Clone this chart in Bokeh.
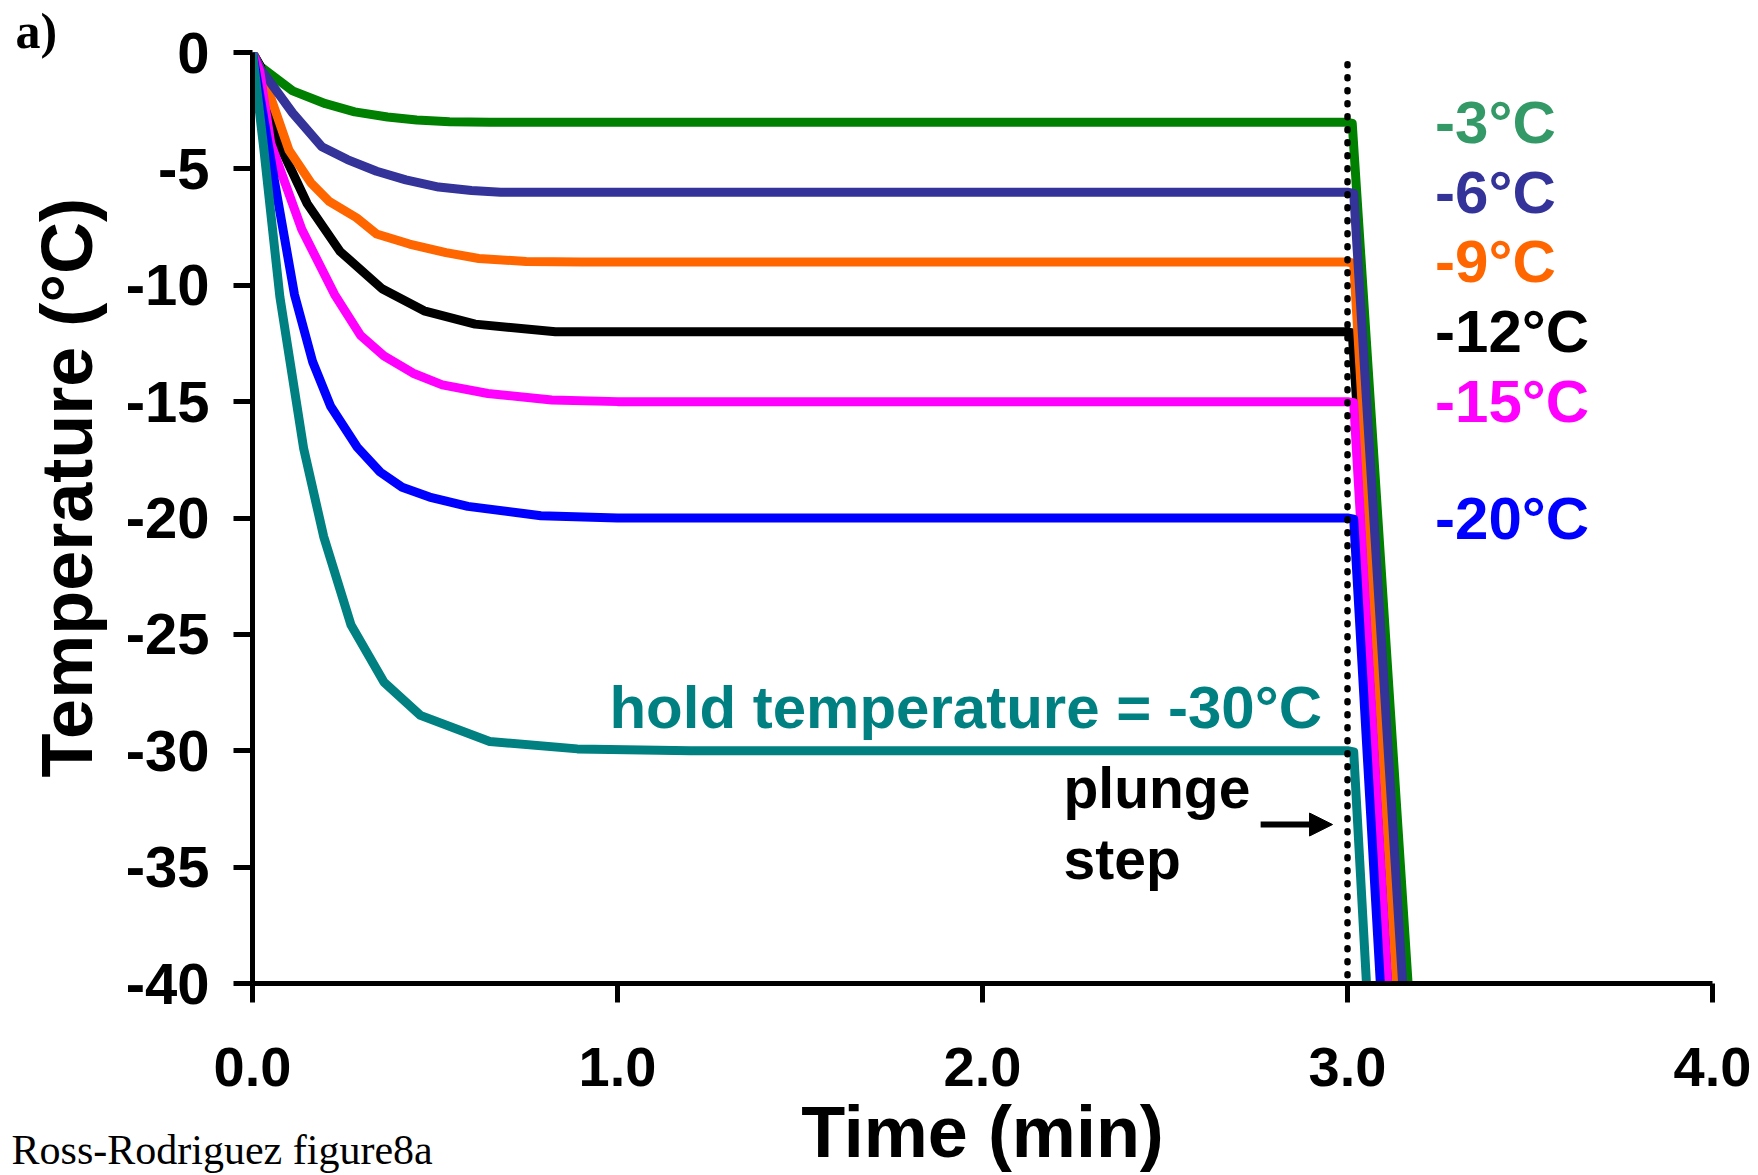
import math
from bokeh.plotting import figure
from bokeh.models import Range1d, FixedTicker, PrintfTickFormatter, Label, Arrow, NormalHead
from bokeh.core.properties import value
from bokeh.embed import file_html
from bokeh.resources import INLINE

# ---------------- data ----------------
t_m3 = [0, 0.022, 0.11, 0.2, 0.28, 0.37, 0.45, 0.54, 0.65, 3.0, 3.013, 3.166]
T_m3 = [0, -0.6, -1.65, -2.2, -2.55, -2.77, -2.9, -2.98, -3.0, -3.0, -3.05, -40]

t_m6 = [0, 0.022, 0.11, 0.19, 0.26, 0.34, 0.42, 0.51, 0.6, 0.68, 3.0, 3.017, 3.151]
T_m6 = [0, -0.7, -2.6, -4.05, -4.6, -5.1, -5.47, -5.78, -5.93, -6.0, -6.0, -6.05, -40]

t_m9 = [0, 0.025, 0.1, 0.16, 0.21, 0.285, 0.34, 0.43, 0.53, 0.62, 0.75, 0.9, 3.0, 3.017, 3.134]
T_m9 = [0, -0.8, -4.2, -5.6, -6.4, -7.1, -7.8, -8.23, -8.6, -8.85, -8.98, -9.0, -9.0, -9.05, -40]

t_m12 = [0, 0.022, 0.06, 0.15, 0.24, 0.355, 0.47, 0.61, 0.83, 3.0, 3.013, 3.126]
T_m12 = [0, -0.6, -3.5, -6.5, -8.55, -10.15, -11.1, -11.67, -12.0, -12.0, -12.05, -40]

t_m15 = [0, 0.02, 0.05, 0.135, 0.225, 0.296, 0.36, 0.44, 0.52, 0.645, 0.82, 1.0, 3.0, 3.017, 3.11]
T_m15 = [0, -0.8, -3.9, -7.6, -10.4, -12.15, -13.03, -13.78, -14.28, -14.65, -14.93, -15.0, -15.0, -15.05, -40]

t_m20 = [0, 0.06, 0.115, 0.165, 0.214, 0.287, 0.35, 0.41, 0.485, 0.59, 0.79, 1.0, 3.0, 3.017, 3.09]
T_m20 = [0, -5.5, -10.4, -13.3, -15.2, -16.96, -18.03, -18.68, -19.1, -19.5, -19.9, -20.0, -20.0, -20.05, -40]

t_m30 = [0, 0.03, 0.075, 0.14, 0.195, 0.27, 0.36, 0.46, 0.65, 0.89, 1.2, 3.0, 3.017, 3.052]
T_m30 = [0, -4.0, -10.5, -17.0, -20.8, -24.6, -27.05, -28.48, -29.6, -29.92, -30.0, -30.0, -30.05, -40]

hold_temps = [-3, -6, -9, -12, -15, -20]
hold_labels = ["-3°C", "-6°C", "-9°C", "-12°C", "-15°C", "-20°C"]

x_ticks = [0, 1, 2, 3, 4]
y_ticks = [0, -5, -10, -15, -20, -25, -30, -35, -40]

plunge_time = 3.0
plunge_dots_top = -0.5

# ---------------- styling ----------------
FONT = "Liberation Sans"
SERIF = "Liberation Serif"
C_GREEN, C_PURPLE, C_ORANGE, C_BLACK = "#008000", "#333399", "#FF6600", "#000000"
C_MAGENTA, C_BLUE, C_TEAL = "#FF00FF", "#0000FF", "#008080"
label_colors = ["#339966", C_PURPLE, C_ORANGE, C_BLACK, C_MAGENTA, C_BLUE]

p = figure(width=1758, height=1175, x_range=Range1d(0, 4), y_range=Range1d(-40, 0),
           output_backend="svg", toolbar_location=None, title=None,
           min_border_left=252, min_border_right=46, min_border_top=52, min_border_bottom=192)
p.xgrid.visible = False
p.ygrid.visible = False
p.outline_line_color = None
p.background_fill_color = "white"
p.border_fill_color = "white"

for ax in (p.xaxis[0], p.yaxis[0]):
    ax.axis_line_width = 5
    ax.axis_line_color = "black"
    ax.major_tick_line_width = 5
    ax.major_tick_line_color = "black"
    ax.major_tick_out = 19
    ax.major_tick_in = 0
    ax.minor_tick_out = 0
    ax.minor_tick_in = 0
    ax.major_label_text_font = FONT
    ax.major_label_text_font_style = "bold"
    ax.major_label_text_color = "black"
    ax.axis_label_text_font = FONT
    ax.axis_label_text_font_style = "bold"
    ax.axis_label_text_font_size = "72px"
    ax.axis_label_text_color = "black"

xa = p.xaxis[0]
xa.ticker = FixedTicker(ticks=x_ticks)
xa.formatter = PrintfTickFormatter(format="%.1f")
xa.major_label_text_font_size = "56px"
xa.major_label_standoff = 45
xa.axis_label = "Time (min)"
xa.axis_label_standoff = 3

ya = p.yaxis[0]
ya.ticker = FixedTicker(ticks=y_ticks)
ya.formatter = PrintfTickFormatter(format="%d")
ya.major_label_text_font_size = "58px"
ya.major_label_standoff = 24

series = [
    (t_m3, T_m3, C_GREEN),
    (t_m12, T_m12, C_BLACK),
    (t_m9, T_m9, C_ORANGE),
    (t_m6, T_m6, C_PURPLE),
    (t_m15, T_m15, C_MAGENTA),
    (t_m20, T_m20, C_BLUE),
    (t_m30, T_m30, C_TEAL),
]
for t, T, c in series:
    p.line(t, T, line_color=c, line_width=9, line_join="round")

# dotted plunge marker
p.line([plunge_time, plunge_time], [plunge_dots_top, -40], line_color="black",
       line_width=6.5, line_dash="1 12", line_cap="round")

# right-hand labels
for v, txt, c in zip(hold_temps, hold_labels, label_colors):
    p.add_layout(Label(x=3.24, y=v, text=txt, text_font=FONT, text_font_style="bold",
                       text_font_size="60px", text_color=c, text_baseline="middle",
                       text_align="left"))

p.add_layout(Label(x=0.978, y=-28.14, text="hold temperature =  -30°C", text_font=FONT,
                   text_font_style="bold", text_font_size="60px", text_color=C_TEAL,
                   text_baseline="middle", text_align="left"))
p.add_layout(Label(x=2.222, y=-31.62, text="plunge", text_font=FONT, text_font_style="bold",
                   text_font_size="57px", text_color="black", text_baseline="middle"))
p.add_layout(Label(x=2.222, y=-34.67, text="step", text_font=FONT, text_font_style="bold",
                   text_font_size="57px", text_color="black", text_baseline="middle"))

p.add_layout(Arrow(end=NormalHead(size=23, fill_color="black", line_color="black", line_width=1),
                   x_start=2.762, y_start=-33.17, x_end=2.959, y_end=-33.17,
                   line_width=6, line_color="black"))

# y-axis title (placed slightly above the frame centre, as in the original)
p.text(x=[-0.507], y=[-18.7], text=["Temperature (°C)"], text_font=value(FONT),
       text_font_style="bold", text_font_size="72px", text_color="black",
       angle=math.pi / 2, text_baseline="middle", text_align="center", level="overlay")

# panel letter and file tag: outside the frame, drawn as overlay-level text
p.text(x=[-0.649], y=[0.93], text=["a)"], text_font=value(SERIF),
       text_font_style="bold", text_font_size="50px", text_color="black",
       text_baseline="middle", text_align="left", level="overlay")
p.text(x=[-0.66], y=[-47.16], text=["Ross-Rodriguez  figure8a"], text_font=value(SERIF),
       text_font_size="42px", text_color="black",
       text_baseline="middle", text_align="left", level="overlay")

open("out.html", "w").write(file_html(p, INLINE))
